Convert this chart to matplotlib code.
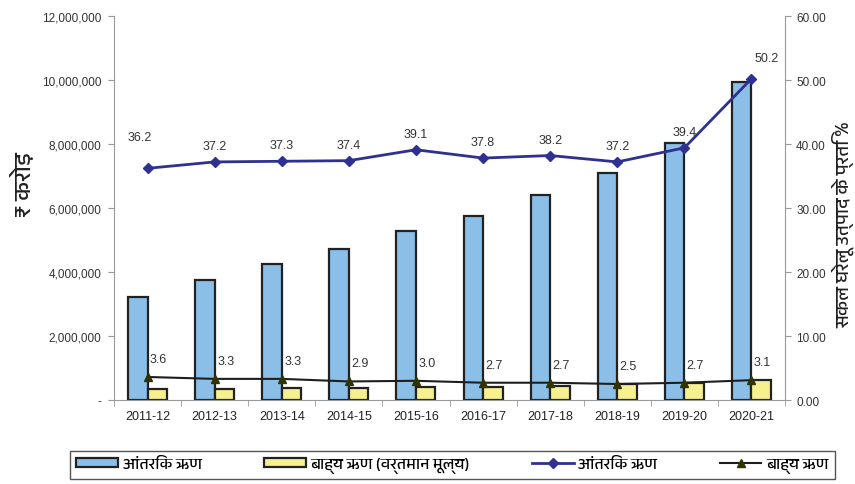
import matplotlib
matplotlib.use("Agg")
import matplotlib.pyplot as plt
from matplotlib import font_manager
from matplotlib.ft2font import FT2Font
from matplotlib.ticker import FuncFormatter, MultipleLocator, FixedLocator
import numpy as np

years = ["2011-12", "2012-13", "2013-14", "2014-15", "2015-16",
         "2016-17", "2017-18", "2018-19", "2019-20", "2020-21"]
# ₹ crore
internal_debt = [3230000, 3760000, 4260000, 4730000, 5290000,
                 5740000, 6410000, 7080000, 8030000, 9930000]
external_debt = [330000, 330000, 380000, 360000, 420000,
                 420000, 450000, 490000, 530000, 620000]
# % of GDP
internal_pct = [36.2, 37.2, 37.3, 37.4, 39.1, 37.8, 38.2, 37.2, 39.4, 50.2]
external_pct = [3.6, 3.3, 3.3, 2.9, 3.0, 2.7, 2.7, 2.5, 2.7, 3.1]

legend_labels = ["आंतरिक ऋण", "बाह्य ऋण (वर्तमान मूल्य)", "आंतरिक ऋण", "बाह्य ऋण"]
left_label = "₹ करोड़"
right_label = "सकल घरेलू उत्पाद के प्रति %"


def find_devanagari_font():
    # pick any installed font that has Devanagari glyphs
    found = []
    for fe in font_manager.fontManager.ttflist:
        try:
            f = FT2Font(fe.fname)
            if f.get_char_index(ord("क")):
                found.append(fe.name)
        except Exception:
            continue
    for name in found:
        if "Devanagari" in name:
            return name
    return found[0] if found else "DejaVu Sans"


deva = find_devanagari_font()
hindi_family = [deva, "DejaVu Sans"]
plt.rcParams["font.family"] = ["Liberation Sans", "DejaVu Sans"]

fig = plt.figure(figsize=(8.55, 4.85), dpi=100)
ax = fig.add_axes([114 / 855, 84 / 485, 671 / 855, 384 / 485])
ax2 = ax.twinx()

x = np.arange(len(years))
w = 0.29
ax.bar(x - w / 2, internal_debt, w, color="#8BBFE8", edgecolor="#222222",
       linewidth=1.6, zorder=2, label=legend_labels[0])
ax.bar(x + w / 2, external_debt, w, color="#F6F08E", edgecolor="#222222",
       linewidth=1.6, zorder=2, label=legend_labels[1])

ax.set_xlim(-0.5, len(years) - 0.5)
ax.set_ylim(0, 12000000)
ax.yaxis.set_major_locator(MultipleLocator(2000000))
ax.yaxis.set_major_formatter(FuncFormatter(lambda v, p: "-" if v == 0 else f"{v:,.0f}"))
ax.set_xticks(x)
ax.set_xticklabels(years)
ax.xaxis.set_minor_locator(FixedLocator(np.arange(-0.5, len(years), 1.0)))
ax.tick_params(axis="x", which="major", length=0, pad=7, labelsize=9, labelcolor="#222222")
ax.tick_params(axis="x", which="minor", length=4, color="#999999")
ax.tick_params(axis="y", length=4, color="#999999", labelsize=8.5, labelcolor="#333333", pad=5)

l1, = ax2.plot(x, internal_pct, color="#2E3192", lw=2, marker="D", markersize=5,
               zorder=3, label=legend_labels[2])
l2, = ax2.plot(x, external_pct, color="#1E1E1E", lw=1.5, marker="^", markersize=6,
               mfc="#333300", mec="#333300", zorder=3, label=legend_labels[3])
ax2.set_ylim(0, 60)
ax2.yaxis.set_major_locator(MultipleLocator(10))
ax2.yaxis.set_major_formatter(FuncFormatter(lambda v, p: f"{v:.2f}"))
ax2.tick_params(axis="y", length=4, color="#999999", labelsize=8.5, labelcolor="#333333", pad=4)

for a in (ax, ax2):
    a.spines["top"].set_visible(False)
ax.spines["right"].set_visible(False)
ax2.spines["left"].set_visible(False)
ax2.spines["bottom"].set_visible(False)
ax.spines["left"].set_color("#999999")
ax.spines["bottom"].set_color("#999999")
ax2.spines["right"].set_color("#999999")

# data labels
for i, v in enumerate(internal_pct):
    dx, dy = 0, 16
    if i == 0:
        dx, dy = -8, 31
    elif i == len(internal_pct) - 1:
        dx, dy = 15, 21
    ax2.annotate(f"{v:.1f}", (x[i], v), xytext=(dx, dy), textcoords="offset pixels",
                 ha="center", va="center", fontsize=9, color="#333333")
for i, v in enumerate(external_pct):
    ax2.annotate(f"{v:.1f}", (x[i], v), xytext=(11, 18), textcoords="offset pixels",
                 ha="center", va="center", fontsize=9, color="#333333")

fig.text(22 / 855, 1 - 185 / 485, left_label, rotation=90, ha="center", va="center",
         fontsize=17, family=hindi_family, color="#222222")
fig.text(843 / 855, 1 - 225 / 485, right_label, rotation=90, ha="center", va="center",
         fontsize=13.5, family=hindi_family, color="#222222")

handles, labels = ax.get_legend_handles_labels()
handles += [l1, l2]
labels += [l1.get_label(), l2.get_label()]
fig.legend(handles, labels, loc="center", ncol=4, mode="expand",
           bbox_to_anchor=(70 / 855, 3 / 485, 765 / 855, 32 / 485),
           frameon=True, fancybox=False, edgecolor="#555555", framealpha=1,
           prop={"family": hindi_family, "size": 11.5}, borderaxespad=0,
           handlelength=2.6, handleheight=0.5, handletextpad=0.3, numpoints=1)

fig.savefig("out.png", dpi=100)
